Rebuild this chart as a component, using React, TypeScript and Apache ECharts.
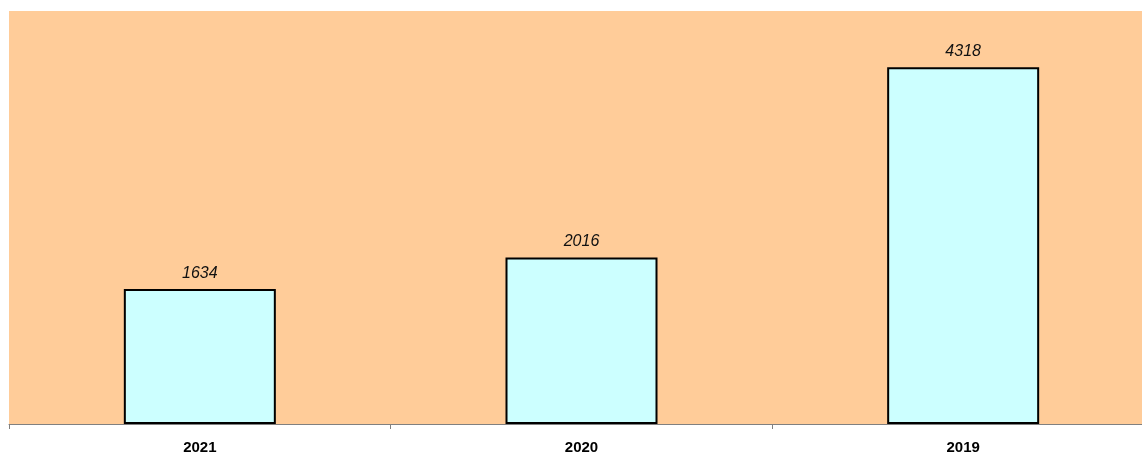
import React, { useEffect, useRef } from "react";
import * as echarts from "echarts";

const categories = ["2021", "2020", "2019"];
const values = [1634, 2016, 4318];

export default function App() {
  const ref = useRef<HTMLDivElement>(null);
  useEffect(() => {
    const chart = echarts.init(ref.current!, null, { renderer: "svg" });
    chart.setOption({
      animation: false,
      grid: { left: 9, top: 11, width: 1145, height: 413, backgroundColor: "#FFCC99", show: true, borderWidth: 0 },
      xAxis: {
        type: "category",
        data: categories,
        axisLine: { lineStyle: { color: "#808080", width: 1 } },
        axisTick: { show: true, length: 5, lineStyle: { color: "#808080" } },
        axisLabel: { fontFamily: "Liberation Sans, Arial", fontWeight: "bold", fontSize: 15, color: "#000", margin: 15 },
      },
      yAxis: { type: "value", min: 0, max: 5000, show: false, splitLine: { show: false } },
      series: [
        {
          type: "bar",
          data: values,
          barWidth: 152,
          itemStyle: { color: "#CCFFFF", borderColor: "#000", borderWidth: 2 },
          label: {
            show: true,
            position: "top",
            distance: 9,
            fontFamily: "Liberation Sans, Arial",
            fontStyle: "italic",
            fontSize: 16,
            color: "#111",
          },
        },
      ],
    });
    return () => chart.dispose();
  }, []);
  return <div ref={ref} style={{ position: "fixed", left: 0, top: 0, width: 1160, height: 458 }} />;
}
